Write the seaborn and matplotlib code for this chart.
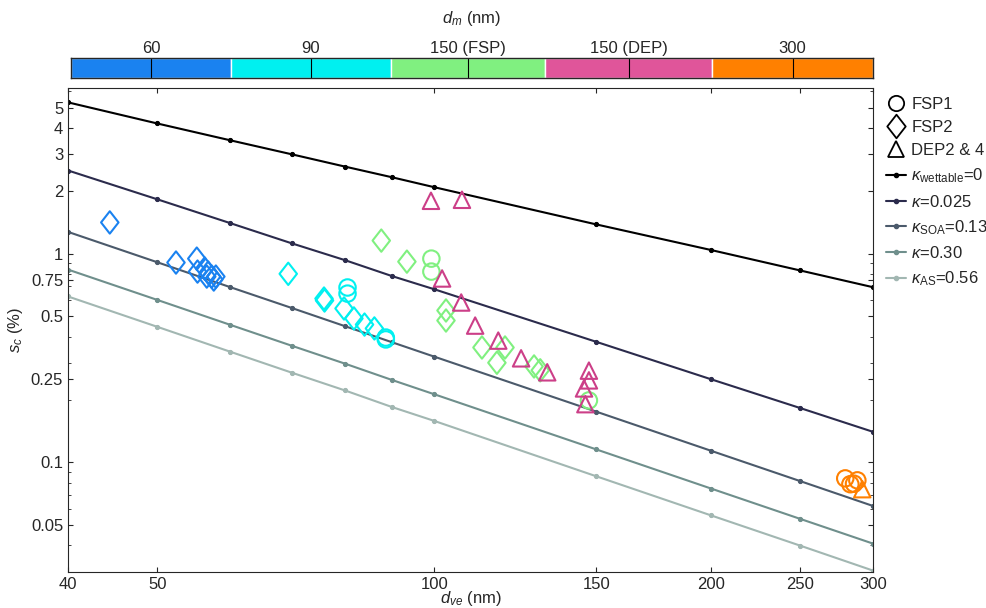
import numpy as np
import pandas as pd
import seaborn as sns
import matplotlib.pyplot as plt
from matplotlib.lines import Line2D
from matplotlib.path import Path
from matplotlib.ticker import FixedLocator, NullFormatter, NullLocator

sns.set_style("ticks")
plt.rcParams['font.family'] = ['Liberation Sans', 'DejaVu Sans']
plt.rcParams['mathtext.fontset'] = 'custom'
plt.rcParams['mathtext.rm'] = 'Liberation Sans'
plt.rcParams['mathtext.it'] = 'Liberation Sans:italic'

# kappa lines
d_line = [40, 50, 60, 70, 80, 90, 100, 150, 200, 250, 300]
s_wet = [5.3, 4.2, 3.49, 2.99, 2.61, 2.32, 2.08, 1.38, 1.04, 0.83, 0.69]
s_k025 = [2.5, 1.82, 1.40, 1.12, 0.93, 0.78, 0.675, 0.378, 0.25, 0.182, 0.14]
s_k013 = [1.27, 0.909, 0.691, 0.549, 0.449, 0.376, 0.321, 0.175, 0.1136, 0.0813, 0.0618]
s_k030 = [0.838, 0.600, 0.456, 0.362, 0.297, 0.248, 0.212, 0.1154, 0.0749, 0.0536, 0.0408]
s_k056 = [0.623, 0.446, 0.339, 0.269, 0.221, 0.184, 0.158, 0.0858, 0.0557, 0.0399, 0.0303]
line_labels = [r'$\kappa_{\rm wettable}$=0', r'$\kappa$=0.025', r'$\kappa_{\rm SOA}$=0.13',
               r'$\kappa$=0.30', r'$\kappa_{\rm AS}$=0.56']
line_colors = ['#000000', '#2b2b4c', '#4b5a6b', '#6f8f8c', '#a2b7b2']

# measurements
dm60_d = [44.4, 52.4, 55.2, 55.3, 56.3, 56.6, 56.8, 57.3, 57.6, 57.9]
dm60_s = [1.41, 0.906, 0.946, 0.82, 0.848, 0.776, 0.811, 0.776, 0.751, 0.776]
dm90_diam_d = [69.4, 75.9, 76.0, 79.8, 81.8, 84.0, 86.1]
dm90_diam_s = [0.80, 0.609, 0.596, 0.546, 0.489, 0.457, 0.438]
dm90_circ_d = [80.5, 80.5, 88.6, 88.6]
dm90_circ_s = [0.688, 0.643, 0.396, 0.388]
fsp_diam_d = [87.6, 93.4, 103, 103, 112.7, 117, 119.4, 128.4, 130.4]
fsp_diam_s = [1.154, 0.915, 0.534, 0.478, 0.355, 0.30, 0.355, 0.288, 0.276]
fsp_circ_d = [99.3, 99.3, 147.3]
fsp_circ_s = [0.946, 0.82, 0.198]
dep_tri_d = [99.2, 107.2, 102, 107, 110.8, 117.4, 124.3, 132.7, 147.3, 147.3, 145.5, 146]
dep_tri_s = [1.79, 1.81, 0.76, 0.583, 0.452, 0.383, 0.315, 0.27, 0.275, 0.247, 0.226, 0.19]
dm300_circ_d = [279.8, 283.4, 288.4, 286]
dm300_circ_s = [0.0838, 0.0786, 0.082, 0.079]
dm300_tri_d = [292]
dm300_tri_s = [0.0744]

cb_labels = ['60', '90', '150 (FSP)', '150 (DEP)', '300']
cb_colors = ['#1a82f0', '#00f0f0', '#80f080', '#e0559a', '#ff8000']
cb_edges = [0, 160, 320, 474, 641, 802]

# diamond a bit taller than wide
diamond = Path([(0, 1), (0.78, 0), (0, -1), (-0.78, 0), (0, 1)],
               [Path.MOVETO, Path.LINETO, Path.LINETO, Path.LINETO, Path.CLOSEPOLY])

fig = plt.figure(figsize=(9.87, 6.08), dpi=100)
ax = fig.add_axes([0.069, 0.059, 0.8156, 0.796])

for s, lab, c in zip([s_wet, s_k025, s_k013, s_k030, s_k056], line_labels, line_colors):
    sns.lineplot(x=d_line, y=s, ax=ax, color=c, lw=1.5, marker='o', markersize=3,
                 markeredgecolor=c, legend=False)

dep_color = '#cc3f88'
groups = [
    (dm60_d, dm60_s, cb_colors[0], diamond),
    (dm90_diam_d, dm90_diam_s, cb_colors[1], diamond),
    (dm90_circ_d, dm90_circ_s, cb_colors[1], 'o'),
    (fsp_diam_d, fsp_diam_s, cb_colors[2], diamond),
    (fsp_circ_d, fsp_circ_s, cb_colors[2], 'o'),
    (dep_tri_d, dep_tri_s, dep_color, '^'),
    (dm300_circ_d, dm300_circ_s, cb_colors[4], 'o'),
    (dm300_tri_d, dm300_tri_s, cb_colors[4], '^'),
]
for dx, sy, c, m in groups:
    size = 140 if isinstance(m, str) else 260
    sns.scatterplot(x=dx, y=sy, ax=ax, marker=m, s=size, facecolor='none',
                    edgecolor=c, linewidth=1.5, zorder=5)

ax.set_xscale('log')
ax.set_yscale('log')
ax.set_xlim(40, 300)
ax.set_ylim(0.0298, 6.2)
ax.xaxis.set_major_locator(FixedLocator([40, 50, 100, 150, 200, 250, 300]))
ax.xaxis.set_minor_locator(NullLocator())
ax.set_xticklabels(['40', '50', '100', '150', '200', '250', '300'])
yt = [0.05, 0.1, 0.25, 0.5, 0.75, 1, 2, 3, 4, 5]
ax.yaxis.set_major_locator(FixedLocator(yt))
ax.yaxis.set_minor_formatter(NullFormatter())
ax.set_yticklabels(['0.05', '0.1', '0.25', '0.5', '0.75', '1', '2', '3', '4', '5'])
ax.tick_params(direction='in', which='both', top=True, right=True, labelsize=12)
ax.set_xlabel(r'$d_{ve}$ (nm)', fontsize=12, labelpad=-2)
ax.set_ylabel(r'$s_c$ (%)', fontsize=12)
for sp in ax.spines.values():
    sp.set_visible(True)

handles = [Line2D([], [], ls='none', marker=m, mfc='none', mec='k', ms=11, mew=1.3)
           for m in ['o', diamond, '^']]
handles[1].set_markersize(17)
handles += [Line2D([], [], color=c, lw=1.5, marker='o', ms=3) for c in line_colors]
ax.legend(handles, ['FSP1', 'FSP2', 'DEP2 & 4'] + line_labels, loc='upper left',
          bbox_to_anchor=(1.0, 1.01), frameon=False, fontsize=12, handlelength=1.2,
          handletextpad=0.3, labelspacing=0.5, borderaxespad=0.4)

# top colour bar for d_m
cax = fig.add_axes([0.072, 0.872, 0.8125, 0.033])
for i, lab in enumerate(cb_labels):
    left, right = cb_edges[i], cb_edges[i + 1]
    cax.barh(0.5, right - left, left=left, height=1, color=cb_colors[i])
    mid = (left + right) / 2
    cax.plot([mid, mid], [0, 1], color='k', lw=0.8)
    cax.text(mid, 1.1, lab, ha='center', va='bottom', fontsize=12)
cax.set_xlim(0, cb_edges[-1])
cax.set_ylim(0, 1)
cax.set_xticks([])
cax.set_yticks([])
for sp in cax.spines.values():
    sp.set_visible(True)
    sp.set_linewidth(1)
cax.text(cb_edges[-1] / 2, 2.5, r'$d_m$ (nm)', ha='center', va='bottom', fontsize=12)

fig.savefig('out.png', dpi=100)
